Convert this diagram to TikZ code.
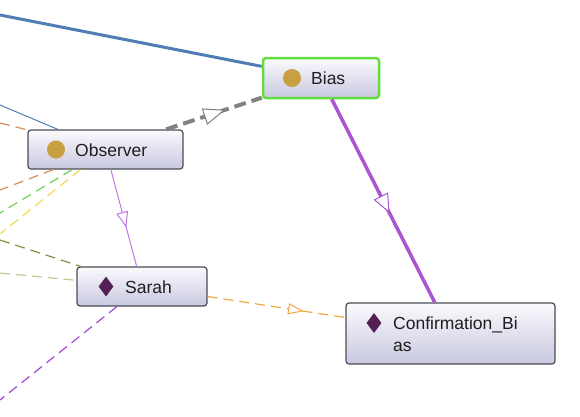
\documentclass[tikz,border=0pt]{standalone}
\usepackage{fontspec}
\setmainfont{Liberation Sans}
\usetikzlibrary{arrows.meta,decorations.markings,shapes.geometric}
\definecolor{boxborder}{RGB}{75,75,85}
\definecolor{boxtop}{RGB}{250,250,253}
\definecolor{boxbot}{RGB}{200,200,224}
\definecolor{biasgreen}{RGB}{100,220,60}
\definecolor{gold}{RGB}{200,160,65}
\definecolor{indiv}{RGB}{85,30,85}
\definecolor{txt}{RGB}{30,30,30}
\definecolor{eblue}{RGB}{80,125,180}
\definecolor{etan}{RGB}{215,140,90}
\definecolor{egreen}{RGB}{110,210,90}
\definecolor{eyellow}{RGB}{240,220,80}
\definecolor{eolive}{RGB}{140,140,60}
\definecolor{ekhaki}{RGB}{200,200,150}
\definecolor{epurpled}{RGB}{160,70,220}
\definecolor{epurplet}{RGB}{190,120,230}
\definecolor{epurplek}{RGB}{170,85,210}
\definecolor{eorange}{RGB}{245,165,70}
\definecolor{egray}{RGB}{130,130,130}
\begin{document}
\begin{tikzpicture}[x=1pt,y=-1pt,
  box/.style={draw=boxborder, line width=1.2pt, rounded corners=3pt, top color=boxtop, bottom color=boxbot, inner sep=0pt},
  lbl/.style={anchor=base west, inner sep=0pt, text=txt, font=\fontsize{17.5}{21}\selectfont},
  dot/.style={circle, fill=gold, minimum size=18pt, inner sep=0pt},
  dia/.style={diamond, fill=indiv, minimum width=15pt, minimum height=20pt, inner sep=0pt},
  dsh/.style={dash pattern=on 10pt off 6pt, line width=1.2pt},
  midarrow/.style n args={3}{postaction={decorate}, decoration={markings, mark=at position #1 with {\arrow[solid]{Triangle[length=#2, width=#3, fill=white, line width=1pt]}}}},
]
\useasboundingbox (0,0) rectangle (580,416);

% nodes
\node[box, draw=biasgreen, line width=2.5pt, minimum width=116pt, minimum height=40pt] (bias) at (321,78) {};
\node[dot] (biasI) at (292,78) {};
\node[lbl] (biasL) at (311,84) {Bias};

\node[box, minimum width=155pt, minimum height=39pt] (obs) at (105.5,149.5) {};
\node[dot] (obsI) at (56,149.5) {};
\node[lbl] (obsL) at (75,156) {Observer};

\node[box, minimum width=130pt, minimum height=39pt] (sarah) at (142,286.5) {};
\node[dia] (sarahI) at (106,286.5) {};
\node[lbl] (sarahL) at (125,293.5) {Sarah};

\node[box, minimum width=209pt, minimum height=61pt] (conf) at (450.5,333.5) {};
\node[dia] (confI) at (374,323) {};
\node[lbl] (confL1) at (393,329) {Confirmation\_Bi};
\node[lbl] (confL2) at (393,351) {as};

% free ends
\coordinate (eA) at (0,15);
\coordinate (eB) at (0,105);
\coordinate (eC) at (0,123);
\coordinate (eD) at (0,190);
\coordinate (eE) at (0,213);
\coordinate (eF) at (0,234);
\coordinate (eG) at (0,240);
\coordinate (eH) at (0,273);
\coordinate (eI) at (0,400);

% connectors
\draw[eblue, line width=3pt] (eA) -- (bias);
\draw[eblue, line width=1pt] (eB) -- (obs);
\draw[etan, dsh] (eC) -- (obs);
\draw[etan, dsh] (obs) -- (eD);
\draw[egreen, dsh] (obs) -- (eE);
\draw[eyellow, dsh] (obs) -- (eF);
\draw[eolive, dsh] (eG) -- (sarah);
\draw[ekhaki, dsh] (eH) -- (sarah);
\draw[epurpled, dsh] (sarah) -- (eI);
\draw[egray, line width=4pt, dash pattern=on 12pt off 6pt, midarrow={0.62}{22pt}{17pt}] (obs) -- (bias);
\draw[epurplet, line width=1pt, midarrow={0.6}{16pt}{12pt}] (obs) -- (sarah);
\draw[epurplek, line width=3.5pt, midarrow={0.56}{19pt}{16pt}] (bias) -- (conf);
\draw[eorange, dsh, midarrow={0.7}{16pt}{11pt}] (sarah) -- (conf);
\end{tikzpicture}
\end{document}
